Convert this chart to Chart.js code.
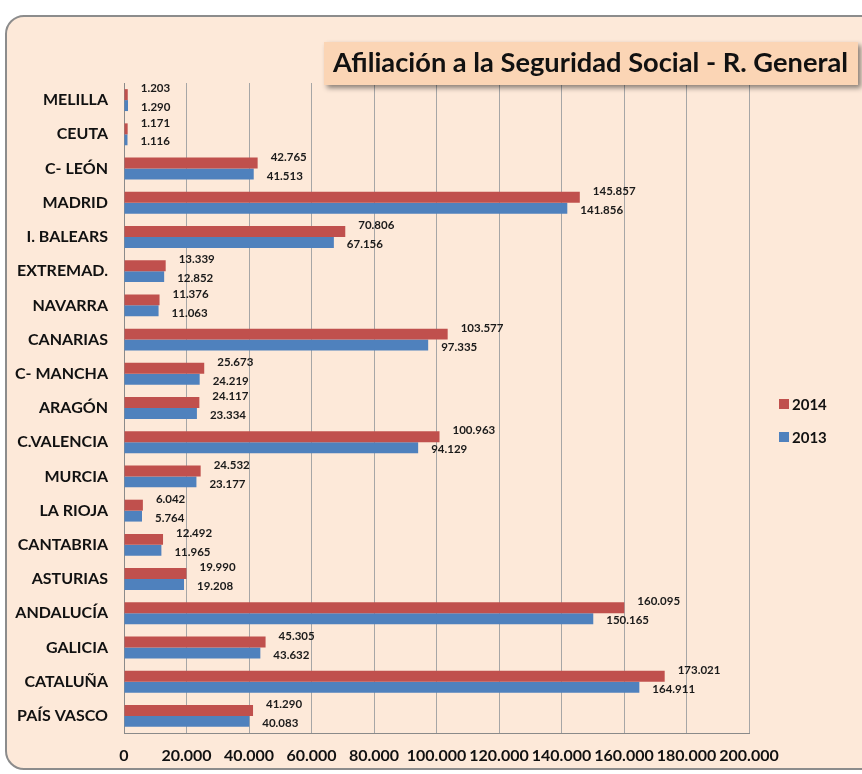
<!DOCTYPE html>
<html><head><meta charset="utf-8">
<script src="https://cdn.jsdelivr.net/npm/chart.js@4/dist/chart.umd.min.js"></script>
<style>html,body{margin:0;padding:0;background:#fff;overflow:hidden;} canvas{display:block;}</style>
</head><body>
<canvas id="c" width="862" height="774"></canvas>
<script>
const categories = ['MELILLA','CEUTA','C- LEÓN','MADRID','I. BALEARS','EXTREMAD.','NAVARRA','CANARIAS','C- MANCHA','ARAGÓN','C.VALENCIA','MURCIA','LA RIOJA','CANTABRIA','ASTURIAS','ANDALUCÍA','GALICIA','CATALUÑA','PAÍS VASCO'];
const values2014 = [1203,1171,42765,145857,70806,13339,11376,103577,25673,24117,100963,24532,6042,12492,19990,160095,45305,173021,41290];
const values2013 = [1290,1116,41513,141856,67156,12852,11063,97335,24219,23334,94129,23177,5764,11965,19208,150165,43632,164911,40083];
const seriesNames = ['2014','2013'];
const chartTitle = 'Afiliación a la Seguridad Social - R. General';
const axisMin = 0, axisMax = 200000, axisStep = 20000;

const FONT = 'Lato, "Open Sans", sans-serif';
const RED = '#C0504D', BLUE = '#4F81BD';
function fmt(v){ return String(v).replace(/\B(?=(\d{3})+(?!\d))/g, '.'); }

const decor = {
  id: 'decor',
  beforeDraw(chart){
    const ctx = chart.ctx;
    ctx.save();
    ctx.fillStyle = '#ffffff';
    ctx.fillRect(0,0,chart.width,chart.height);
    ctx.beginPath();
    ctx.roundRect(6,16,890,753,18);
    ctx.fillStyle = '#FDE9D9';
    ctx.fill();
    ctx.lineWidth = 2;
    ctx.strokeStyle = '#8C8C8C';
    ctx.stroke();
    ctx.restore();
  },
  afterDatasetsDraw(chart){
    const ctx = chart.ctx;
    ctx.save();
    ctx.font = 'bold 11.5px ' + FONT;
    ctx.fillStyle = '#1a1a1a';
    ctx.textAlign = 'left';
    ctx.textBaseline = 'middle';
    chart.data.datasets.forEach((ds, i) => {
      const meta = chart.getDatasetMeta(i);
      meta.data.forEach((bar, j) => {
        const dy = i === 0 ? -6 : 2;
        ctx.fillText(fmt(ds.data[j]), bar.x + 13, bar.y + dy);
      });
    });
    ctx.restore();
  },
  afterDraw(chart){
    const ctx = chart.ctx;
    ctx.save();
    ctx.shadowColor = 'rgba(0,0,0,0.45)';
    ctx.shadowBlur = 5;
    ctx.shadowOffsetX = 3;
    ctx.shadowOffsetY = 3;
    ctx.fillStyle = '#FBD5B5';
    ctx.fillRect(324,42,534,43);
    ctx.restore();
    ctx.save();
    ctx.font = 'bold 26px ' + FONT;
    const w = ctx.measureText(chartTitle).width;
    const sx = 515 / w;
    ctx.translate(333, 64);
    ctx.scale(sx, 1);
    ctx.fillStyle = '#111';
    ctx.textAlign = 'left';
    ctx.textBaseline = 'middle';
    ctx.fillText(chartTitle, 0, 0);
    ctx.restore();
    ctx.save();
    ctx.font = 'bold 15px ' + FONT;
    ctx.textBaseline = 'middle';
    ctx.textAlign = 'left';
    const items = [{t: chart.data.datasets[0].label, c: chart.data.datasets[0].backgroundColor, y: 404},
                   {t: chart.data.datasets[1].label, c: chart.data.datasets[1].backgroundColor, y: 437}];
    items.forEach(it => {
      ctx.fillStyle = it.c;
      ctx.fillRect(779, it.y - 5, 10, 10);
      ctx.fillStyle = '#111';
      ctx.fillText(it.t, 792, it.y + 1);
    });
    ctx.restore();
  }
};

new Chart(document.getElementById('c'), {
  type: 'bar',
  data: {
    labels: categories,
    datasets: [
      { label: seriesNames[0], data: values2014, backgroundColor: RED, borderWidth: 0, categoryPercentage: 0.64, barPercentage: 1.0 },
      { label: seriesNames[1], data: values2013, backgroundColor: BLUE, borderWidth: 0, categoryPercentage: 0.64, barPercentage: 1.0 }
    ]
  },
  options: {
    indexAxis: 'y',
    responsive: false,
    animation: false,
    devicePixelRatio: 1,
    layout: { padding: { left: 0, right: 113, top: 83, bottom: 0 } },
    plugins: { legend: { display: false }, title: { display: false }, tooltip: { enabled: false } },
    scales: {
      x: {
        min: axisMin, max: axisMax,
        afterFit(s){ s.height = 41; },
        ticks: { stepSize: axisStep, callback: v => fmt(v), font: { family: FONT, size: 16, weight: 'bold' }, color: '#111', padding: 13, maxRotation: 0, autoSkip: false },
        grid: { color: '#A6A6A6', lineWidth: 1, drawTicks: false },
        border: { display: true, color: '#8A8A8A', width: 1 }
      },
      y: {
        afterFit(s){ s.width = 124; },
        ticks: { font: { family: FONT, size: 16, weight: 'bold' }, color: '#111', padding: 16, autoSkip: false },
        grid: { display: false, drawTicks: false },
        border: { display: true, color: '#8A8A8A', width: 1 }
      }
    }
  },
  plugins: [decor]
});
</script>
</body></html>
